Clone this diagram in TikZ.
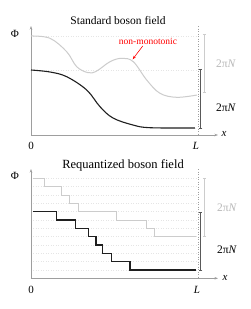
\documentclass[tikz,border=0pt]{standalone}
\usepackage{fontspec}
\setmainfont{Liberation Serif}
\usetikzlibrary{arrows.meta}
\definecolor{axisgray}{gray}{0.62}
\definecolor{lightcurve}{gray}{0.80}
\definecolor{darkcurve}{gray}{0.12}
\definecolor{lighttext}{gray}{0.72}
\definecolor{gridgray}{gray}{0.90}
\begin{document}
\begin{tikzpicture}[x=1pt,y=-1pt,
  axisline/.style={draw=axisgray, line width=0.8pt, -{Stealth[length=3.5pt,width=2.5pt]}},
  gridline/.style={draw=gridgray, dotted, line width=0.5pt},
  vline/.style={draw=axisgray, dotted, line width=0.5pt},
  lightc/.style={draw=lightcurve, line width=1pt},
  darkc/.style={draw=darkcurve, line width=1.1pt},
  darkbar/.style={draw=gray!70!black, line width=1pt, {Bar[width=3pt]}-{Bar[width=3pt]}},
  lightbar/.style={draw=lightcurve, line width=0.6pt, {Bar[width=3pt]}-{Bar[width=3pt]}},
  titletxt/.style={font=\fontsize{11.5}{13}\selectfont, inner sep=0pt},
  lbl/.style={font=\fontsize{11}{13}\selectfont, inner sep=0pt},
  twopi/.style={font=\fontsize{11.5}{13}\selectfont, inner sep=0pt},
]
\useasboundingbox[fill=white] (0,0) rectangle (251,309);

% ---------------- Top panel ----------------
\node[titletxt] (t1) at (118,21) {Standard boson field};
\coordinate (o1) at (31,135);
\coordinate (ytop1) at (31,26);
\coordinate (xend1) at (218,135);
\node[lbl] (phi1) at (15,34) {Φ};
\node[lbl] (zero1) at (31,146) {0};
\node[lbl] (L1) at (196,146) {\textit{L}};
\node[lbl] (x1) at (224,134) {\textit{x}};
% grid lines
\coordinate (g1a) at (31,36); \coordinate (g1b) at (198,36);
\coordinate (g2a) at (31,70); \coordinate (g2b) at (198,70);
\draw[gridline] (g1a) -- (g1b);
\draw[gridline] (g2a) -- (g2b);
\coordinate (v1a) at (198.5,26); \coordinate (v1b) at (198.5,135);
\draw[vline] (v1a) -- (v1b);
\draw[axisline] (o1) -- (ytop1);
\draw[axisline] (o1) -- (xend1);
% curves
\draw[lightc] plot[smooth, tension=0.6] coordinates {(31,36) (50,38.3) (66.7,51.7) (76.7,66.7) (88.3,72.7) (96.7,71) (110,61.7) (121.7,58.3) (133.3,61.7) (146.7,80) (160,93.3) (176.7,97.3) (197,95)};
\draw[darkc] plot[smooth, tension=0.6] coordinates {(31,70) (50,72) (66.7,76.7) (86.7,90) (100,106.7) (113,118) (133,125) (150,127.7) (195,128)};
% bars
\coordinate (b1t) at (201,68.5); \coordinate (b1b) at (201,128.5);
\draw[darkbar] (b1t) -- (b1b);
\coordinate (c1t) at (204.5,34); \coordinate (c1b) at (204.5,93);
\draw[lightbar] (c1t) -- (c1b);
\node[twopi, text=lighttext] (n1g) at (226,64) {2π\textit{N}};
\node[twopi] (n1k) at (226,108) {2π\textit{N}};
% annotation
\node[font=\fontsize{9.5}{11}\selectfont, text=red, inner sep=0pt] (nm) at (148,41) {non-monotonic};
\coordinate (nmtip) at (132.7,59.3);
\draw[red, line width=0.6pt, -{Stealth[length=3.5pt,width=2.5pt]}] (nm.south west) ++(24,1.5) coordinate (nmstart) -- (nmtip);

% ---------------- Bottom panel ----------------
\node[titletxt, font=\fontsize{12.5}{14}\selectfont] (t2) at (123,165) {Requantized boson field};
\coordinate (o2) at (31,278.3);
\coordinate (ytop2) at (31,169);
\coordinate (xend2) at (218,278.3);
\node[lbl] (phi2) at (15,176) {Φ};
\node[lbl] (zero2) at (31,290) {0};
\node[lbl] (L2) at (197,290) {\textit{L}};
\node[lbl] (x2) at (225,278) {\textit{x}};
\foreach \k in {0,...,11} {
  \draw[gridline] (31,178.3+8.33*\k) -- (198,178.3+8.33*\k);
}
\coordinate (v2a) at (198.5,169); \coordinate (v2b) at (198.5,278.3);
\draw[vline] (v2a) -- (v2b);
\draw[axisline] (o2) -- (ytop2);
\draw[axisline] (o2) -- (xend2);
% staircases
\draw[lightc] (32.7,178.3) -- (45,178.3) -- (45,186.7) -- (61.7,186.7) -- (61.7,195) -- (70,195) -- (70,203.3) -- (78.3,203.3) -- (78.3,211.7) -- (116.7,211.7) -- (116.7,220) -- (146.7,220) -- (146.7,228.3) -- (154.3,228.3) -- (154.3,236.7) -- (195.7,236.7);
\draw[darkc] (32.7,211.7) -- (56.7,211.7) -- (56.7,220) -- (75.7,220) -- (75.7,228.3) -- (88.3,228.3) -- (88.3,236.7) -- (96,236.7) -- (96,245) -- (102.7,245) -- (102.7,253.3) -- (111.7,253.3) -- (111.7,261.7) -- (130,261.7) -- (130,270) -- (195.7,270);
% bars
\coordinate (b2t) at (201,211.7); \coordinate (b2b) at (201,270.7);
\draw[darkbar] (b2t) -- (b2b);
\coordinate (c2t) at (204.5,178.3); \coordinate (c2b) at (204.5,236.7);
\draw[lightbar] (c2t) -- (c2b);
\node[twopi, text=lighttext] (n2g) at (227,208) {2π\textit{N}};
\node[twopi] (n2k) at (227,250) {2π\textit{N}};
\end{tikzpicture}
\end{document}
